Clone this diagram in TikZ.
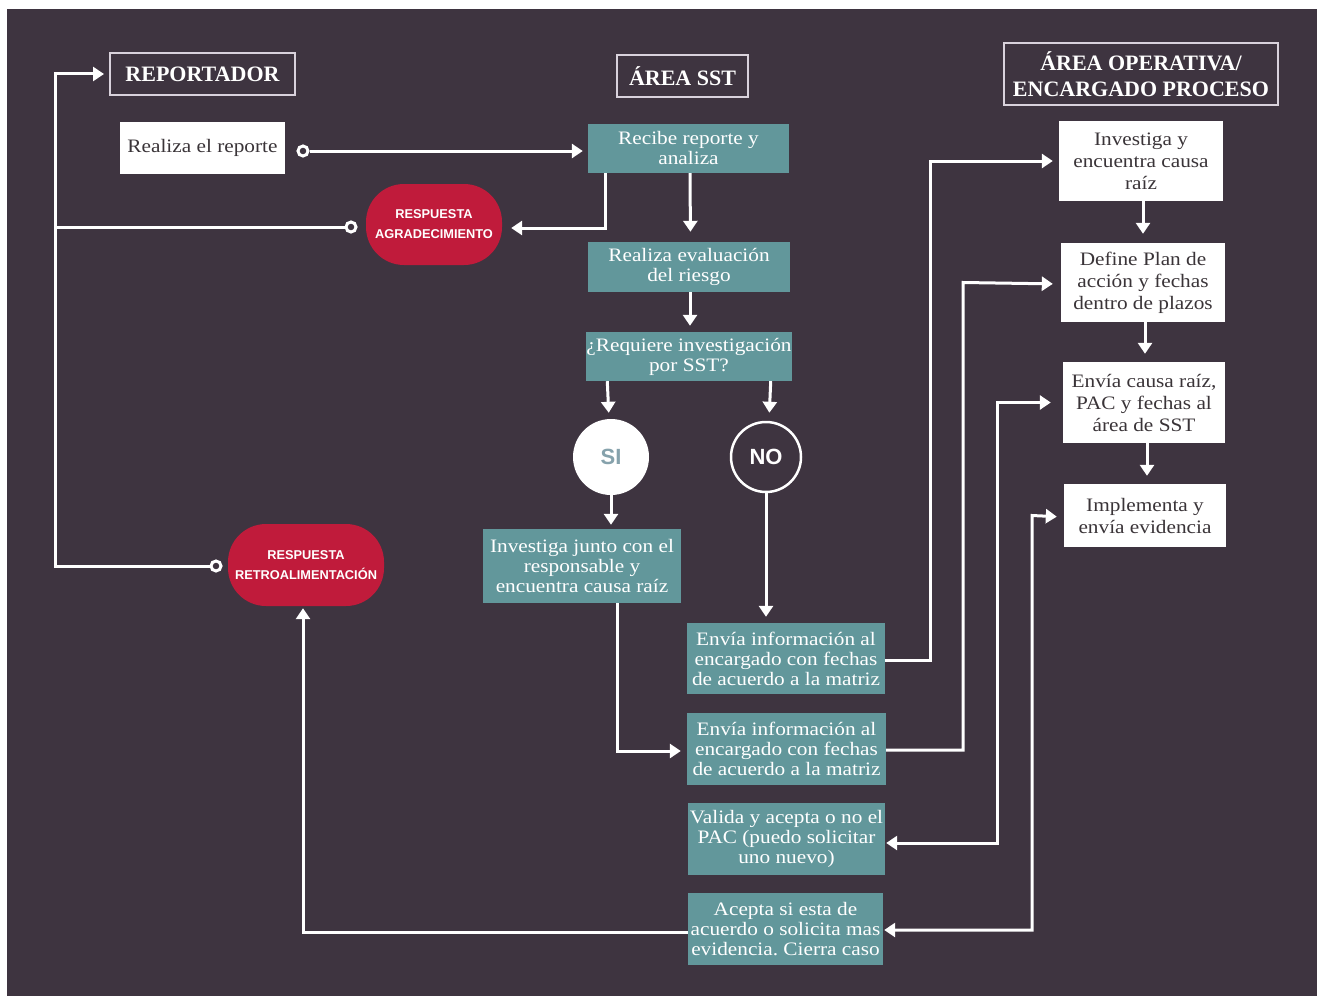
\documentclass[tikz,border=0pt]{standalone}
\usepackage{fontspec}
\setmainfont{Liberation Serif}
\newfontfamily\bodyfont[FakeStretch=1.12]{Liberation Serif}
\newfontfamily\bsans{Liberation Sans}
\usetikzlibrary{arrows.meta,calc}
\definecolor{bg}{HTML}{3E3440}
\definecolor{tealbox}{HTML}{62979B}
\definecolor{redbox}{HTML}{C01B3B}
\definecolor{lav}{HTML}{D9D2DC}
\definecolor{ink}{HTML}{3A3438}
\definecolor{sigray}{HTML}{86A2AC}
\frenchspacing
\begin{document}
\begin{tikzpicture}[x=1pt,y=-1pt,
  tb/.style={fill=tealbox, text=white, inner sep=0pt, align=center, font=\bodyfont\fontsize{19}{20}\selectfont},
  wb/.style={fill=white, text=ink, inner sep=0pt, align=center, font=\bodyfont\fontsize{19}{22}\selectfont},
  hb/.style={draw=lav, line width=2pt, text=white, inner sep=0pt, align=center, font=\bfseries\fontsize{22}{26}\selectfont},
  rb/.style={fill=redbox, rounded corners=38pt, text=white, inner sep=0pt, align=center, font=\bsans\bfseries\fontsize{12.8}{20}\selectfont},
  term/.style={circle, draw=white, line width=3pt, fill=bg, minimum size=10pt, inner sep=0pt},
  wire/.style={draw=white, line width=3pt},
  arr/.style={wire, -{Triangle[length=11pt,width=14pt]}, shorten >=6pt},
  darr/.style={wire, {Triangle[length=11pt,width=14pt]}-{Triangle[length=11pt,width=14pt]}},
]
% background
\fill[white] (0,0) rectangle (1317,998);
\fill[bg] (7,9) rectangle (1317,996);

% headers
\node[hb, minimum width=185pt, minimum height=42pt] (hRep) at (202.5,74) {REPORTADOR};
\node[hb, minimum width=131pt, minimum height=42pt] (hSST) at (682.5,76) {ÁREA SST};
\node[hb, minimum width=274pt, minimum height=62pt] (hOp) at (1141,74) {ÁREA OPERATIVA/\\ENCARGADO PROCESO};

% reportador column
\node[wb, minimum width=165pt, minimum height=52pt] (rep) at (202.5,148) {Realiza el reporte};
\node[rb, minimum width=136pt, minimum height=81pt] (agra) at (434,224.5) {RESPUESTA\\AGRADECIMIENTO};
\node[rb, minimum width=156pt, minimum height=82pt] (retro) at (306,565) {RESPUESTA\\RETROALIMENTACIÓN};

% SST column
\node[tb, minimum width=201pt, minimum height=49pt] (recibe) at (688.5,148.5) {Recibe reporte y\\analiza};
\node[tb, minimum width=202pt, minimum height=50pt] (evalr) at (689,267) {Realiza evaluación\\del riesgo};
\node[tb, minimum width=202pt, minimum height=49pt] (req) at (689,356.5) {¿Requiere investigación\\por SST?};
\node[circle, fill=white, minimum size=76pt, inner sep=0pt, text=sigray, font=\bsans\bfseries\fontsize{22}{24}\selectfont] (si) at (611,457) {SI};
\node[circle, draw=white, line width=2.5pt, fill=bg, minimum size=70pt, inner sep=0pt, text=white, font=\bsans\bfseries\fontsize{22}{24}\selectfont] (no) at (766,457) {NO};
\node[tb, minimum width=198pt, minimum height=74pt] (inv) at (582,566) {Investiga junto con el\\responsable y\\encuentra causa raíz};
\node[tb, minimum width=198pt, minimum height=71pt] (env1) at (786,658.5) {Envía información al\\encargado con fechas\\de acuerdo a la matriz};
\node[tb, minimum width=199pt, minimum height=72pt] (env2) at (786.5,749) {Envía información al\\encargado con fechas\\de acuerdo a la matriz};
\node[tb, minimum width=197pt, minimum height=72pt] (valida) at (786.5,839) {Valida y acepta o no el\\PAC (puedo solicitar\\uno nuevo)};
\node[tb, minimum width=195pt, minimum height=72pt] (acepta) at (785.5,929) {Acepta si esta de\\acuerdo o solicita mas\\evidencia. Cierra caso};

% operative column
\node[wb, minimum width=164pt, minimum height=80pt] (invR) at (1141,161) {Investiga y\\encuentra causa\\raíz};
\node[wb, minimum width=164pt, minimum height=79pt] (defR) at (1143,282.5) {Define Plan de\\acción y fechas\\dentro de plazos};
\node[wb, minimum width=162pt, minimum height=81pt] (envR) at (1144,402.5) {Envía causa raíz,\\PAC y fechas al\\área de SST};
\node[wb, minimum width=162pt, minimum height=63pt] (impR) at (1145,515.5) {Implementa y\\envía evidencia};

% terminals
\node[term] (tRep) at (303,151) {};
\node[term] (tAgra) at (351,227) {};
\node[term] (tRetro) at (216,566) {};

% bus coordinates
\coordinate (busTop) at (55,74);
\coordinate (b1) at (930,0);
\coordinate (b2) at (963,0);
\coordinate (b3) at (997,0);
\coordinate (b4) at (1032,0);
\coordinate (c1) at ($(invR.south)+(2,0)$);
\coordinate (c2) at ($(defR.south)+(2,0)$);
\coordinate (c3) at ($(envR.south)+(3,0)$);

% connectors
\draw[arr, shorten >=5pt] (tRep) -- (tRep -| recibe.west);
\draw[arr, shorten >=9pt] ($(recibe.south west)+(18,0)$) |- ($(agra.east)+(0,3.5)$);
\draw[arr, shorten >=5pt] (tAgra) -| (busTop) -- (hRep.west);
\draw[wire] (tRetro) -| (busTop);

\draw[arr, shorten >=10pt] ($(recibe.south)+(1.5,0)$) -- ($(evalr.north)+(1.5,0)$);
\draw[arr] ($(evalr.south)+(1,0)$) -- ($(req.north)+(1,0)$);
\draw[arr] ($(req.south west)+(21,0)$) -- ($(si.north)+(-2,0)$);
\draw[arr, shorten >=8pt] ($(req.south east)+(-21,0)$) -- ($(no.north)+(3,0)$);
\draw[arr, shorten >=4pt] (si.south) -- (si.south |- inv.north);
\draw[arr] (no.south) -- (no.south |- env1.north);
\draw[arr, shorten >=6pt] ($(inv.south west)+(135,0)$) |- ($(env2.west)+(0,2)$);

\draw[arr, shorten >=6pt] ($(env1.east)+(0,1.5)$) -| (b1 |- invR.west) -- (invR.west);
\draw[arr, shorten >=8pt] ($(env2.east)+(0,1)$) -| (b2 |- defR.west) -- ($(defR.west)+(0,1.5)$);
\draw[darr, shorten >=12pt, shorten <=1pt] ($(valida.east)+(0,4)$) -| (b3 |- envR.west) -- (envR.west);
\draw[darr, shorten >=7pt, shorten <=1pt] ($(acepta.east)+(0,1)$) -| (b4 |- impR.west) -- ($(impR.west)+(0,1.5)$);
\draw[arr, shorten >=2pt] ($(acepta.west)+(0,3)$) -| ($(retro.south)+(-3,0)$);

\draw[arr, shorten >=9pt] (c1) -- (c1 |- defR.north);
\draw[arr, shorten >=8pt] (c2) -- (c2 |- envR.north);
\draw[arr, shorten >=8pt] (c3) -- (c3 |- impR.north);
\end{tikzpicture}
\end{document}
